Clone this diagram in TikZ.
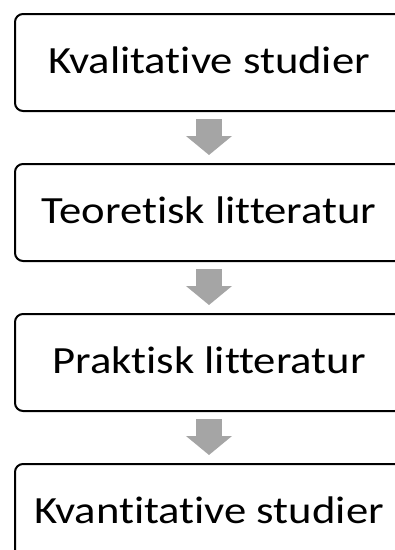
\documentclass[tikz,border=0pt]{standalone}
\usepackage{fontspec}
\setmainfont{Carlito}[Ligatures=NoCommon, FakeStretch=1.16]
\usetikzlibrary{arrows.meta, positioning}
\definecolor{box-ink}{HTML}{000000}
\definecolor{step-grey}{HTML}{A5A5A5}

\begin{document}
\begin{tikzpicture}[
    x=1pt, y=-1pt,
    font=\fontsize{38.5}{42}\selectfont,
    stage/.style={
        rectangle, rounded corners=8pt,
        minimum width=388pt, minimum height=97pt,
        draw=box-ink, line width=2pt,
        fill=white, text=box-ink,
        inner sep=0pt, text height=21pt, text depth=0pt,
    },
    stepdown/.style={
        draw=step-grey, line width=26pt,
        -{Triangle[width=45pt, length=19pt]},
        shorten <=7pt, shorten >=8pt,
    },
]

% =====================================================================
% FRAME — picture is cut at the right and bottom edges
% =====================================================================

\useasboundingbox (0,0) rectangle (395,550);
\clip (0,0) rectangle (395,550);

% =====================================================================
% STAGES
% =====================================================================

\node[stage] (kval) at (209, 62.5) {Kvalitative studier};
\node[stage, below=51pt of kval] (teor) {Teoretisk litteratur};
\node[stage, below=51pt of teor] (prak) {Praktisk litteratur};
\node[stage, below=51pt of prak] (kvan) {Kvantitative studier};

% =====================================================================
% ARROWS between stages
% =====================================================================

\draw[stepdown] (kval.south) -- (teor.north);
\draw[stepdown] (teor.south) -- (prak.north);
\draw[stepdown] (prak.south) -- (kvan.north);

\end{tikzpicture}
\end{document}
